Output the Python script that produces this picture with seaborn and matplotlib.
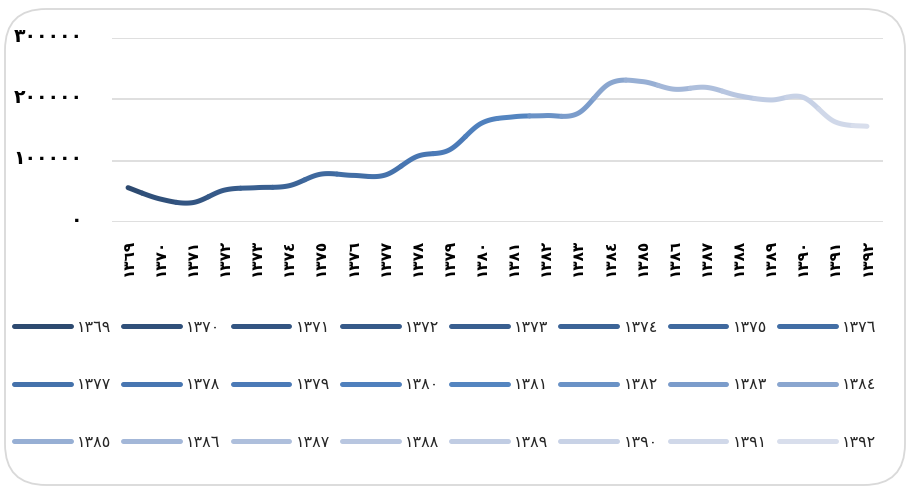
import numpy as np
import pandas as pd
import matplotlib
matplotlib.use("Agg")
import matplotlib.pyplot as plt
import matplotlib.transforms as mtransforms
import seaborn as sns
from matplotlib.lines import Line2D
from matplotlib.patches import FancyBboxPatch

# ---- data ----
years = ['١٣٦٩', '١٣٧٠', '١٣٧١', '١٣٧٢', '١٣٧٣', '١٣٧٤', '١٣٧٥', '١٣٧٦',
         '١٣٧٧', '١٣٧٨', '١٣٧٩', '١٣٨٠', '١٣٨١', '١٣٨٢', '١٣٨٣', '١٣٨٤',
         '١٣٨٥', '١٣٨٦', '١٣٨٧', '١٣٨٨', '١٣٨٩', '١٣٩٠', '١٣٩١', '١٣٩٢']
values = [56000, 37500, 31500, 52000, 56000, 59000, 78000, 76000,
          76500, 107000, 117500, 161000, 171500, 173500, 177000, 226000,
          229000, 216500, 219500, 206000, 199000, 203500, 163500, 156000]
ytick_values = [0, 100000, 200000, 300000]
ytick_labels = ['٠', '١٠٠٠٠٠', '٢٠٠٠٠٠', '٣٠٠٠٠٠']

# ---- style ----
colors = ['#2D4A70', '#30507A', '#335582', '#365A89', '#395F90', '#3C6497',
          '#3F699E', '#426EA5', '#4572AB', '#4876B1', '#4B7AB7', '#4F80BD',
          '#5485C0', '#6A92C6', '#7B9CCB', '#8AA6CF', '#97AFD4', '#A3B7D8',
          '#AEBFDC', '#B8C6E0', '#C0CCE3', '#C8D2E6', '#D0D8E9', '#D8DEEC']
palette = dict(zip(years, colors))

sns.set_theme(style="white")
plt.rcParams['font.family'] = ['DejaVu Sans']

# smoothed (Excel-like Catmull-Rom Bezier) curve, split into per-year pieces
n = len(values)
P = np.column_stack([np.arange(n, dtype=float), np.array(values, dtype=float)])


def seg(i, t):
    p0 = P[i]
    p3 = P[i + 1]
    pm = P[i - 1] if i > 0 else P[i]
    pp = P[i + 2] if i + 2 < n else P[i + 1]
    b1 = p0 + (p3 - pm) / 6.0
    b2 = p3 - (pp - p0) / 6.0
    t = t[:, None]
    return ((1 - t) ** 3) * p0 + 3 * ((1 - t) ** 2) * t * b1 + 3 * (1 - t) * t ** 2 * b2 + t ** 3 * p3


rows = []
order = 0
for i in range(n):
    parts = []
    if i > 0:
        parts.append(seg(i - 1, np.linspace(0.5, 1.0, 20)))
    if i < n - 1:
        parts.append(seg(i, np.linspace(0.0, 0.5, 20)))
    pts = np.vstack(parts)
    for x, y in pts:
        rows.append({'x': x, 'y': y, 'year': years[i], 'o': order})
        order += 1
df = pd.DataFrame(rows)

fig = plt.figure(figsize=(9.11, 4.88), dpi=100)
fig.patch.set_facecolor('white')
border = FancyBboxPatch((5 / 911, 3 / 488), 900 / 911, 476 / 488,
                        boxstyle="round,pad=0,rounding_size=0.045",
                        transform=fig.transFigure, facecolor='none',
                        edgecolor='#D9D9D9', linewidth=1.3, mutation_aspect=911 / 488,
                        zorder=-5)
fig.patches.append(border)

ax = fig.add_axes([112 / 911, 1 - 222 / 488, (883 - 112) / 911, (222 - 38) / 488])
ax.set_facecolor('none')

sns.lineplot(data=df, x='x', y='y', hue='year', palette=palette, sort=False,
             estimator=None, linewidth=3.6, legend=False, ax=ax,
             solid_capstyle='round')

ax.set_xlim(-0.5, n - 0.5)
ax.set_ylim(0, 300000)
ax.set_yticks(ytick_values)
ax.set_yticklabels(ytick_labels, fontsize=13.5, fontweight='bold', color='black')
ax.set_xticks(range(n))
ax.set_xticklabels(years, rotation=90, fontsize=11, fontweight='bold', color='black')
ax.tick_params(axis='x', length=0, pad=12)
ax.tick_params(axis='y', length=0, pad=21)
shift = mtransforms.ScaledTranslation(0, 0.04, fig.dpi_scale_trans)
for lab in ax.get_yticklabels():
    lab.set_transform(lab.get_transform() + shift)
ax.grid(axis='y', color='#D9D9D9', linewidth=1.2)
ax.grid(axis='x', visible=False)
ax.set_axisbelow(True)
for s in ax.spines.values():
    s.set_visible(False)
ax.set_xlabel('')
ax.set_ylabel('')

# legend: 3 rows x 8 columns, row-major
ncol = 8
nrow = 3
handles = [Line2D([0], [0], color=c, linewidth=3.6, solid_capstyle='round') for c in colors]
idx = [r * ncol + c for c in range(ncol) for r in range(nrow)]
fig.legend([handles[k] for k in idx], [years[k] for k in idx], ncol=ncol,
           loc='upper left', bbox_to_anchor=(14 / 911, 1 - 320 / 488),
           frameon=False, fontsize=11.5, handlelength=3.55, handletextpad=0.4,
           columnspacing=0.74, labelspacing=2.66, borderpad=0, borderaxespad=0)

fig.savefig('out.png', dpi=100, facecolor='white')
